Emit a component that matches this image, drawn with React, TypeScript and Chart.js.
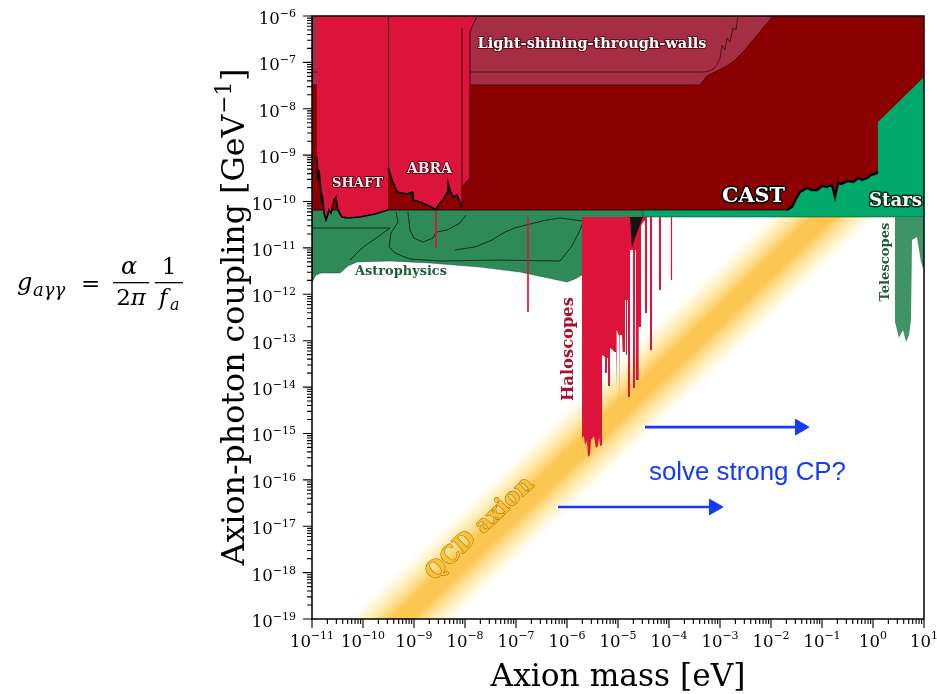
import React, { useEffect, useRef } from 'react';
import { Chart, registerables } from 'chart.js';

Chart.register(...registerables);

// ---------------- axis ticks ----------------
const xTickValues = [1e-11, 1e-10, 1e-9, 1e-8, 1e-7, 1e-6, 1e-5, 1e-4, 1e-3, 1e-2, 1e-1, 1, 10];
const yTickValues = [1e-19, 1e-18, 1e-17, 1e-16, 1e-15, 1e-14, 1e-13, 1e-12, 1e-11, 1e-10, 1e-9, 1e-8, 1e-7, 1e-6];

// ---------------- regions (mass [eV], coupling [GeV^-1]) ----------------
const qcdMass = [1e-11, 10];
const qcdCenter = [1.46e-21, 5.5e-9];
const qcdUpper = [2.07e-20, 7.76e-8];
const qcdLower = [1.04e-22, 3.89e-10];

const starsMass = [1e-11, 10, 10, 1e-11];
const starsCoupling = [4.64e-11, 4.64e-11, 1e-6, 1e-6];

const astroMass = [1e-11, 1e-11, 1.2e-11, 1.5e-11, 3.54e-11, 5.08e-11, 7.63e-11, 3.38e-10, 2.06e-9, 1.97e-8, 1.2e-7, 1e-6, 1.43e-6, 1.97e-6, 6.97e-6, 2.7e-5, 3.09e-5, 3.09e-5];
const astroCoupling = [6.57e-11, 1.84e-12, 2.61e-12, 2.88e-12, 2.88e-12, 4.07e-12, 4.97e-12, 5.22e-12, 4.72e-12, 3.87e-12, 3.02e-12, 1.84e-12, 2.14e-12, 2.61e-12, 5.48e-12, 2.43e-11, 4.64e-11, 6.57e-11];

const astroLine1Mass = [1e-11, 3.38e-10, 1.8e-10, 9.55e-11, 5.56e-11];
const astroLine1Coupling = [2.69e-11, 2.69e-11, 1.63e-11, 9.95e-12, 5.48e-12];
const astroLine2Mass = [4.44e-10, 4.86e-10, 3.54e-10, 3.24e-10, 4.24e-10, 8.36e-10, 3.24e-9, 4.86e-8, 7.29e-7, 1.25e-6, 1.8e-6, 2.25e-6];
const astroLine2Coupling = [5.94e-11, 3.61e-11, 2.1e-11, 1.05e-11, 7.76e-12, 5.77e-12, 5.22e-12, 5.48e-12, 5.22e-12, 1.1e-11, 2.43e-11, 4.64e-11];
const astroLine3Mass = [7.63e-10, 8.36e-10, 1e-9, 1.5e-9, 2.36e-9, 2.7e-9, 4.44e-9, 7.98e-9, 1.05e-8];
const astroLine3Coupling = [5.94e-11, 2.43e-11, 1.63e-11, 1.34e-11, 1.63e-11, 2.2e-11, 2.43e-11, 3.44e-11, 5.12e-11];
const astroLine4Mass = [6.37e-9, 1.57e-8, 3.38e-8, 6.08e-8, 9.55e-8, 1.88e-7, 4.05e-7, 7.29e-7, 1.43e-6, 2.83e-6];
const astroLine4Coupling = [9e-12, 1.05e-11, 1.48e-11, 2.2e-11, 2.69e-11, 3.28e-11, 4e-11, 4.42e-11, 4e-11, 3.61e-11];

const haloMass = [1.97e-6, 1.97e-6, 2.15e-6, 2.25e-6, 2.47e-6, 2.58e-6, 2.83e-6, 2.96e-6, 3.38e-6, 3.7e-6, 4.05e-6, 4.24e-6, 4.44e-6, 4.86e-6, 4.86e-6, 5.56e-6, 5.56e-6, 6.08e-6, 6.08e-6, 6.37e-6, 6.37e-6, 6.97e-6, 6.97e-6, 7.98e-6, 8.36e-6, 9.14e-6, 9.14e-6, 9.55e-6, 9.55e-6, 1.05e-5, 1.05e-5, 1.09e-5, 1.09e-5, 1.2e-5, 1.2e-5, 1.25e-5, 1.25e-5, 1.37e-5, 1.37e-5, 1.43e-5, 1.43e-5, 1.5e-5, 1.5e-5, 1.57e-5, 1.57e-5, 1.72e-5, 1.72e-5, 1.97e-5, 1.97e-5, 2.15e-5, 2.15e-5, 2.25e-5, 2.25e-5, 2.47e-5, 2.47e-5, 2.58e-5, 2.58e-5, 2.83e-5, 2.83e-5, 3.38e-5, 3.38e-5, 3.7e-5, 3.7e-5, 4.24e-5, 4.24e-5, 4.64e-5, 4.64e-5, 6.37e-5, 6.37e-5, 6.97e-5, 6.97e-5, 1.09e-4, 1.09e-4, 1.15e-4, 1.15e-4];
const haloCoupling = [4.64e-11, 7.96e-16, 8.8e-16, 5.63e-16, 6.87e-16, 3.1e-16, 3.43e-16, 7.21e-16, 8.8e-16, 4.85e-16, 5.36e-16, 8.37e-16, 5.36e-16, 5.63e-16, 4.91e-14, 4.45e-14, 2.01e-14, 2.01e-14, 4.23e-14, 4.23e-14, 1.05e-14, 1.05e-14, 6.95e-14, 6.3e-14, 5.69e-14, 5.69e-14, 8.63e-15, 8.63e-15, 1.7e-13, 1.26e-13, 4.75e-15, 4.75e-15, 1.32e-13, 1.32e-13, 7.53e-13, 7.53e-13, 5.69e-14, 5.69e-14, 7.53e-13, 7.53e-13, 4.91e-14, 4.91e-14, 7.53e-13, 7.53e-13, 6.1e-15, 6.1e-15, 9e-12, 9e-12, 9.53e-15, 9.53e-15, 9e-12, 9e-12, 1.42e-14, 1.42e-14, 9e-12, 9e-12, 1.97e-13, 1.97e-13, 3.12e-11, 4e-11, 3.95e-13, 3.95e-13, 4.64e-11, 4.64e-11, 6.3e-14, 6.3e-14, 4.64e-11, 4.64e-11, 1.24e-12, 1.24e-12, 4.64e-11, 4.64e-11, 2.03e-12, 2.03e-12, 4.64e-11];

const haloSpikeAMass = [1.72e-7, 1.72e-7];
const haloSpikeACoupling = [4.64e-11, 4.15e-13];
const haloSpikeBMass = [2.7e-9, 2.7e-9];
const haloSpikeBCoupling = [6.57e-11, 9.95e-12];

const blackMass = [1.72e-5, 1.8e-5, 1.88e-5, 2.15e-5, 2.47e-5, 2.83e-5, 3.09e-5];
const blackCoupling = [4.64e-11, 1.9e-11, 9.95e-12, 1.63e-11, 2.43e-11, 3.61e-11, 4.64e-11];

const teleMass = [2.7, 2.7, 3.24, 3.87, 4.44, 5.08, 5.56, 5.82, 7.29, 7.98, 8.73, 9.55, 10, 10];
const teleCoupling = [4.64e-11, 2.52e-13, 1.14e-13, 1.7e-13, 9.35e-14, 1.32e-13, 2.79e-13, 1.48e-11, 1.72e-11, 9e-12, 4.97e-12, 3.69e-12, 3.69e-12, 4.64e-11];

const castMass = [1e-11, 1e-11, 2.06e-2, 2.58e-2, 3.24e-2, 3.7e-2, 5.08e-2, 6.37e-2, 7.98e-2, 0.1, 0.125, 0.157, 0.18, 0.206, 0.236, 0.324, 0.405, 0.508, 0.608, 0.763, 0.914, 1.09, 1.25, 1.25, 10, 10];
const castCoupling = [1e-6, 6.57e-11, 6.57e-11, 7.6e-11, 1.25e-10, 1.6e-10, 1.96e-10, 1.77e-10, 1.77e-10, 2.16e-10, 2.06e-10, 2.27e-10, 1.25e-10, 2.51e-10, 2.39e-10, 2.77e-10, 2.64e-10, 3.21e-10, 2.91e-10, 3.21e-10, 3.73e-10, 3.92e-10, 4.33e-10, 5.18e-9, 4.84e-8, 1e-6];

const lswMass = [1e-11, 1e-11, 4.05e-4, 5.56e-4, 7.98e-4, 1.37e-3, 1.97e-3, 3.09e-3, 1.09e-2];
const lswCoupling = [1e-6, 3.25e-8, 3.25e-8, 5.09e-8, 6.2e-8, 8.36e-8, 1.12e-7, 1.85e-7, 1e-6];
const lswInnerMass = [1e-11, 5.08e-4, 6.97e-4, 8.73e-4, 1e-3, 1.09e-3, 1.25e-3, 1.37e-3, 1.57e-3, 1.8e-3, 2.06e-3, 2.25e-3];
const lswInnerCoupling = [6.2e-8, 6.2e-8, 6.85e-8, 8.78e-8, 1.24e-7, 2.37e-7, 1.85e-7, 3.36e-7, 2.75e-7, 5.51e-7, 4.99e-7, 1e-6];

const shaftMass = [1.25e-11, 1.25e-11, 1.31e-11, 1.37e-11, 1.47e-11, 1.54e-11, 1.61e-11, 1.72e-11, 1.88e-11, 2.01e-11, 2.15e-11, 2.36e-11, 2.58e-11, 2.7e-11, 2.96e-11, 3.16e-11, 3.46e-11, 3.87e-11, 5.08e-11, 8.73e-11, 1.72e-10, 3.09e-10, 3.09e-10];
const shaftCoupling = [1e-6, 9.1e-10, 2.91e-10, 4.78e-10, 2.06e-10, 1.08e-10, 1.25e-10, 5.65e-11, 4e-11, 4.87e-11, 6.57e-11, 5.65e-11, 8.4e-11, 1.08e-10, 1.25e-10, 7.24e-11, 5.65e-11, 4.64e-11, 4.42e-11, 4.64e-11, 5.38e-11, 6.57e-11, 1e-6];

const abraMass = [3.09e-10, 3.09e-10, 3.38e-10, 3.7e-10, 4.24e-10, 4.64e-10, 5.82e-10, 7.29e-10, 9.14e-10, 9.55e-10, 1.31e-9, 1.8e-9, 2.36e-9, 2.7e-9, 3.24e-9, 3.7e-9, 4.44e-9, 4.64e-9, 5.08e-9, 5.82e-9, 6.97e-9, 7.98e-9, 8.73e-9, 8.73e-9, 1.25e-8, 1.25e-8, 1.57e-8, 1.8e-8];
const abraCoupling = [1e-6, 5.28e-10, 4.12e-10, 2.91e-10, 2.06e-10, 1.6e-10, 1.53e-10, 1.45e-10, 1.6e-10, 1.08e-10, 9.77e-11, 8.4e-11, 7.24e-11, 6.9e-11, 9.3e-11, 1.08e-10, 1.53e-10, 2.51e-10, 1.77e-10, 1.25e-10, 1.38e-10, 9.3e-11, 7.6e-11, 2.06e-10, 3.21e-10, 4.52e-7, 8.2e-7, 1e-6];
const abraInnerMass = [8.73e-9, 8.73e-9];
const abraInnerCoupling = [2.06e-10, 5.51e-7];

const arrowUpperMass = [3.38e-5, 3.7e-2];
const arrowUpperCoupling = [1.37e-15, 1.37e-15];
const arrowLowerMass = [6.67e-7, 7.62e-4];
const arrowLowerCoupling = [2.6e-17, 2.6e-17];

// ---------------- labels ----------------
const labelTexts = ['Light-shining-through-walls', 'SHAFT', 'ABRA', 'CAST', 'Stars', 'Astrophysics', 'Haloscopes', 'Telescopes', 'QCD axion', 'solve strong CP?'];
const labelMass = [3.09e-6, 7.8e-11, 2.01e-9, 4.54e-3, 2.76, 5.56e-10, 1.09e-6, 1.8, 1.97e-8, 3.46e-3];
const labelCoupling = [2.49e-7, 2.45e-10, 4.9e-10, 1.28e-10, 1e-10, 3.1e-12, 6.6e-14, 4.97e-12, 8.7e-18, 1.44e-16];

// ---------------- styles ----------------
const SERIF = '"DejaVu Serif", "Liberation Serif", serif';
const SANS = '"Liberation Sans", Arial, sans-serif';
const BLUE = 'rgb(22,58,250)';
const labelStyles: any[] = [
  { width: 229, fill: '#ffffff', stroke: 'rgba(60,0,10,0.75)', lw: 2, rot: 0, weight: 'bold', family: SERIF },
  { width: 51, fill: '#f6e8ea', stroke: 'rgba(60,0,10,0.85)', lw: 2, rot: 0, weight: 'bold', family: SERIF },
  { width: 45, fill: '#f6e8ea', stroke: 'rgba(60,0,10,0.85)', lw: 2, rot: 0, weight: 'bold', family: SERIF },
  { width: 63, fill: '#ffffff', stroke: '#000000', lw: 3, rot: 0, weight: 'bold', family: SERIF },
  { width: 53, fill: '#ffffff', stroke: '#00301a', lw: 3, rot: 0, weight: 'bold', family: SERIF },
  { width: 92, fill: '#1f5c37', stroke: 'rgba(255,255,255,0.85)', lw: 2.5, rot: 0, weight: 'bold', family: SERIF },
  { width: 104, fill: '#a8122f', stroke: 'rgba(255,255,255,0.9)', lw: 2.5, rot: -90, weight: 'bold', family: SERIF },
  { width: 79, fill: '#1f5c37', stroke: 'rgba(255,255,255,0.9)', lw: 2.5, rot: -90, weight: 'bold', family: SERIF },
  { width: 139, fill: '#f7c23c', stroke: '#b07a0c', lw: 1.2, rot: 'band', weight: 'bold', family: SERIF },
  { width: 197, fill: BLUE, stroke: null, lw: 0, rot: 0, weight: 'normal', family: SANS },
];

const pts = (xs: number[], ys: number[]) => xs.map((x, i) => ({ x, y: ys[i] }));

function region(label: string, xs: number[], ys: number[], color: any, order: number, borderColor = 'rgba(0,0,0,0)', borderWidth = 0) {
  return { label, data: pts(xs, ys), fill: 'shape', backgroundColor: color, borderColor, borderWidth, pointRadius: 0, pointHoverRadius: 0, tension: 0, order };
}
function curve(label: string, xs: number[], ys: number[], color: string, width: number, order: number) {
  return { label, data: pts(xs, ys), fill: false, backgroundColor: color, borderColor: color, borderWidth: width, pointRadius: 0, pointHoverRadius: 0, tension: 0, order };
}
function arrow(label: string, xs: number[], ys: number[], order: number) {
  return {
    label, data: pts(xs, ys), fill: false, borderColor: BLUE, backgroundColor: BLUE, borderWidth: 2.6,
    pointRadius: [0, 9], pointHoverRadius: 0, pointStyle: 'triangle', pointRotation: 90,
    pointBackgroundColor: BLUE, pointBorderColor: BLUE, pointBorderWidth: 1, tension: 0, order,
  };
}

function bandPixels(chart: any) {
  const xs = chart.scales.x, ys = chart.scales.y;
  const p0 = { x: xs.getPixelForValue(qcdMass[0]), y: ys.getPixelForValue(qcdCenter[0]) };
  const p1 = { x: xs.getPixelForValue(qcdMass[1]), y: ys.getPixelForValue(qcdCenter[1]) };
  const u = { x: xs.getPixelForValue(qcdMass[0]), y: ys.getPixelForValue(qcdUpper[0]) };
  return { p0, p1, u };
}

function qcdGradient(c: any) {
  const chart = c.chart;
  if (!chart.chartArea || !chart.scales.x || !chart.scales.y) return 'rgba(252,196,80,0.6)';
  const { p0, p1, u } = bandPixels(chart);
  const dx = p1.x - p0.x, dy = p1.y - p0.y;
  const L = Math.hypot(dx, dy);
  const nx = -dy / L, ny = dx / L;
  const w = Math.abs((u.x - p0.x) * nx + (u.y - p0.y) * ny);
  const g = chart.ctx.createLinearGradient(p0.x - nx * w, p0.y - ny * w, p0.x + nx * w, p0.y + ny * w);
  g.addColorStop(0, 'rgba(255,240,180,0)');
  g.addColorStop(0.2, 'rgba(254,226,135,0.6)');
  g.addColorStop(0.4, 'rgba(252,198,82,1)');
  g.addColorStop(0.6, 'rgba(252,198,82,1)');
  g.addColorStop(0.8, 'rgba(254,226,135,0.6)');
  g.addColorStop(1, 'rgba(255,240,180,0)');
  return g;
}

function setFitFont(ctx: CanvasRenderingContext2D, text: string, width: number, weight: string, family: string, style = 'normal') {
  ctx.font = `${style} ${weight} 20px ${family}`;
  const w = ctx.measureText(text).width || 1;
  const size = (20 * width) / w;
  ctx.font = `${style} ${weight} ${size.toFixed(2)}px ${family}`;
  return size;
}

function expText(v: number) {
  const e = Math.round(Math.log10(v));
  return (e < 0 ? '\u2212' : '') + Math.abs(e);
}

const decorPlugin = {
  id: 'decor',
  afterDatasetsDraw(chart: any) {
    const { ctx, scales } = chart;
    const xs = scales.x, ys = scales.y;
    ctx.save();
    labelTexts.forEach((t, i) => {
      const st = labelStyles[i];
      const px = xs.getPixelForValue(labelMass[i]);
      const py = ys.getPixelForValue(labelCoupling[i]);
      let rot = 0;
      if (st.rot === 'band') {
        const { p0, p1 } = bandPixels(chart);
        rot = Math.atan2(p1.y - p0.y, p1.x - p0.x);
      } else rot = (st.rot * Math.PI) / 180;
      ctx.save();
      ctx.translate(px, py);
      ctx.rotate(rot);
      setFitFont(ctx, t, st.width, st.weight, st.family);
      ctx.textAlign = 'center';
      ctx.textBaseline = 'middle';
      ctx.lineJoin = 'round';
      if (st.stroke) {
        ctx.strokeStyle = st.stroke;
        ctx.lineWidth = st.lw;
        ctx.strokeText(t, 0, 0);
      }
      ctx.fillStyle = st.fill;
      ctx.fillText(t, 0, 0);
      ctx.restore();
    });
    ctx.restore();
  },
  afterDraw(chart: any) {
    const { ctx, chartArea: a, scales } = chart;
    const xs = scales.x, ys = scales.y;
    ctx.save();
    // frame
    ctx.strokeStyle = '#000';
    ctx.lineWidth = 1.5;
    ctx.strokeRect(a.left, a.top, a.right - a.left, a.bottom - a.top);
    // ticks
    ctx.lineWidth = 1.1;
    ctx.beginPath();
    xTickValues.forEach((v, i) => {
      const p = xs.getPixelForValue(v);
      ctx.moveTo(p, a.bottom); ctx.lineTo(p, a.bottom + 9);
      if (i < xTickValues.length - 1) {
        for (let j = 2; j <= 9; j++) {
          const q = xs.getPixelForValue(j * v);
          ctx.moveTo(q, a.bottom); ctx.lineTo(q, a.bottom + 5);
        }
      }
    });
    yTickValues.forEach((v, i) => {
      const p = ys.getPixelForValue(v);
      ctx.moveTo(a.left, p); ctx.lineTo(a.left - 9, p);
      if (i < yTickValues.length - 1) {
        for (let j = 2; j <= 9; j++) {
          const q = ys.getPixelForValue(j * v);
          ctx.moveTo(a.left, q); ctx.lineTo(a.left - 5, q);
        }
      }
    });
    ctx.stroke();

    // tick labels
    ctx.fillStyle = '#000';
    ctx.textBaseline = 'alphabetic';
    ctx.textAlign = 'left';
    const baseFont = `16.5px ${SERIF}`;
    const expFont = `11px ${SERIF}`;
    const measure = (t: string, f: string) => { ctx.font = f; return ctx.measureText(t).width; };
    xTickValues.forEach((v) => {
      const p = xs.getPixelForValue(v);
      const e = expText(v);
      const w1 = measure('10', baseFont), w2 = measure(e, expFont);
      const start = p - (w1 + w2) / 2;
      ctx.font = baseFont; ctx.fillText('10', start, a.bottom + 28);
      ctx.font = expFont; ctx.fillText(e, start + w1, a.bottom + 20);
    });
    yTickValues.forEach((v) => {
      const p = ys.getPixelForValue(v);
      const e = expText(v);
      const w1 = measure('10', baseFont), w2 = measure(e, expFont);
      const start = a.left - 16 - (w1 + w2);
      ctx.font = baseFont; ctx.fillText('10', start, p + 8);
      ctx.font = expFont; ctx.fillText(e, start + w1, p + 1);
    });

    // x title
    ctx.textAlign = 'center';
    setFitFont(ctx, 'Axion mass [eV]', 255, 'normal', SERIF);
    ctx.fillText('Axion mass [eV]', (a.left + a.right) / 2, 686);

    // y title (rotated) with superscript
    ctx.save();
    ctx.translate(244, 318);
    ctx.rotate(-Math.PI / 2);
    const t1 = 'Axion-photon coupling [GeV', t2 = '\u22121', t3 = ']';
    let s = 30;
    const widthAt = (size: number) => {
      const f1 = `${size}px ${SERIF}`, f2 = `${size * 0.68}px ${SERIF}`;
      return measure(t1, f1) + measure(t2, f2) + measure(t3, f1);
    };
    s = (s * 495) / widthAt(s);
    const total = widthAt(s);
    const f1 = `${s}px ${SERIF}`, f2 = `${s * 0.68}px ${SERIF}`;
    const w1 = measure(t1, f1), w2 = measure(t2, f2);
    const x0 = -total / 2;
    ctx.textAlign = 'left';
    ctx.font = f1; ctx.fillText(t1, x0, 0);
    ctx.font = f2; ctx.fillText(t2, x0 + w1 + 1, -s * 0.4);
    ctx.font = f1; ctx.fillText(t3, x0 + w1 + w2 + 2, 0);
    ctx.restore();

    // formula g_{aγγ} = α/(2π) · 1/f_a
    ctx.textAlign = 'left';
    ctx.font = `italic 24px ${SERIF}`; ctx.fillText('g', 17, 290);
    ctx.font = `italic 18px ${SERIF}`; ctx.fillText('a\u03b3\u03b3', 33, 296);
    ctx.font = `23px ${SERIF}`; ctx.fillText('=', 81, 291);
    ctx.textAlign = 'center';
    ctx.font = `italic 24px ${SERIF}`; ctx.fillText('\u03b1', 129, 274);
    ctx.fillRect(113, 282, 36, 1.3);
    ctx.textAlign = 'left';
    const w2c = measure('2', `23px ${SERIF}`), wpi = measure('\u03c0', `italic 23px ${SERIF}`);
    const st2 = 131 - (w2c + wpi) / 2;
    ctx.font = `23px ${SERIF}`; ctx.fillText('2', st2, 305);
    ctx.font = `italic 23px ${SERIF}`; ctx.fillText('\u03c0', st2 + w2c, 305);
    ctx.textAlign = 'center';
    ctx.font = `23px ${SERIF}`; ctx.fillText('1', 169, 274);
    ctx.fillRect(155, 282, 28, 1.3);
    ctx.textAlign = 'left';
    ctx.font = `italic 23px ${SERIF}`; ctx.fillText('f', 159, 305);
    ctx.font = `italic 16px ${SERIF}`; ctx.fillText('a', 170, 310);
    ctx.restore();
  },
};

export default function App() {
  const ref = useRef<HTMLCanvasElement>(null);
  useEffect(() => {
    const canvas = ref.current;
    if (!canvas) return;
    const datasets: any[] = [
      region('QCD axion', [qcdMass[0], qcdMass[1], qcdMass[1], qcdMass[0]], [qcdUpper[0], qcdUpper[1], qcdLower[1], qcdLower[0]], qcdGradient, 100),
      region('Stars', starsMass, starsCoupling, 'rgb(0,168,107)', 90, 'rgba(0,50,25,0.6)', 0.8),
      region('Telescopes', teleMass, teleCoupling, 'rgba(46,139,87,0.92)', 85),
      region('Astrophysics', astroMass, astroCoupling, 'rgb(46,139,87)', 80, 'rgba(0,40,20,0.55)', 0.7),
      curve('Astro 1', astroLine1Mass, astroLine1Coupling, 'rgba(0,0,0,0.85)', 0.8, 79),
      curve('Astro 2', astroLine2Mass, astroLine2Coupling, 'rgba(0,0,0,0.85)', 0.8, 79),
      curve('Astro 3', astroLine3Mass, astroLine3Coupling, 'rgba(0,0,0,0.85)', 0.8, 79),
      curve('Astro 4', astroLine4Mass, astroLine4Coupling, 'rgba(0,0,0,0.85)', 0.8, 79),
      region('Haloscopes', haloMass, haloCoupling, 'rgb(220,20,60)', 75),
      curve('Halo spike A', haloSpikeAMass, haloSpikeACoupling, 'rgba(220,20,60,0.85)', 2, 74),
      curve('Halo spike B', haloSpikeBMass, haloSpikeBCoupling, 'rgba(220,20,60,0.9)', 2, 74),
      region('Halo noise', blackMass, blackCoupling, 'rgba(12,18,12,0.95)', 73),
      region('CAST', castMass, castCoupling, 'rgb(139,0,0)', 60),
      curve('CAST edge', castMass.slice(1, 3), castCoupling.slice(1, 3), 'rgba(0,0,0,0.8)', 1, 59),
      curve('CAST noise', castMass.slice(2, 23), castCoupling.slice(2, 23), '#000000', 2.2, 59),
      region('LSW', lswMass, lswCoupling, 'rgb(165,46,68)', 50, 'rgba(40,0,0,0.7)', 1),
      curve('LSW inner', lswInnerMass, lswInnerCoupling, 'rgba(40,0,0,0.75)', 0.9, 49),
      region('SHAFT', shaftMass, shaftCoupling, 'rgb(220,20,60)', 40),
      curve('SHAFT edge', shaftMass.slice(1, 22), shaftCoupling.slice(1, 22), '#000000', 1.6, 39),
      region('ABRA', abraMass, abraCoupling, 'rgb(220,20,60)', 40, 'rgba(0,0,0,0.85)', 0.8),
      curve('ABRA edge', abraMass.slice(1, 23), abraCoupling.slice(1, 23), '#000000', 1.6, 39),
      curve('ABRA inner', abraInnerMass, abraInnerCoupling, 'rgba(0,0,0,0.85)', 0.8, 39),
      arrow('Arrow upper', arrowUpperMass, arrowUpperCoupling, 1),
      arrow('Arrow lower', arrowLowerMass, arrowLowerCoupling, 1),
    ];
    const chart = new Chart(canvas, {
      type: 'line',
      data: { datasets },
      options: {
        responsive: false,
        maintainAspectRatio: false,
        devicePixelRatio: 1,
        animation: false,
        events: [],
        layout: { padding: { left: 312, top: 16, right: 13, bottom: 75 }, autoPadding: false },
        scales: {
          x: { type: 'logarithmic', min: 1e-11, max: 10, display: false },
          y: { type: 'logarithmic', min: 1e-19, max: 1e-6, display: false },
        },
        plugins: {
          legend: { display: false },
          tooltip: { enabled: false },
        },
      } as any,
      plugins: [decorPlugin],
    } as any);
    return () => chart.destroy();
  }, []);
  return (
    <div style={{ position: 'absolute', left: 0, top: 0, width: 937, height: 694, background: '#fff' }}>
      <canvas ref={ref} width={937} height={694} style={{ width: 937, height: 694, display: 'block' }} />
    </div>
  );
}
